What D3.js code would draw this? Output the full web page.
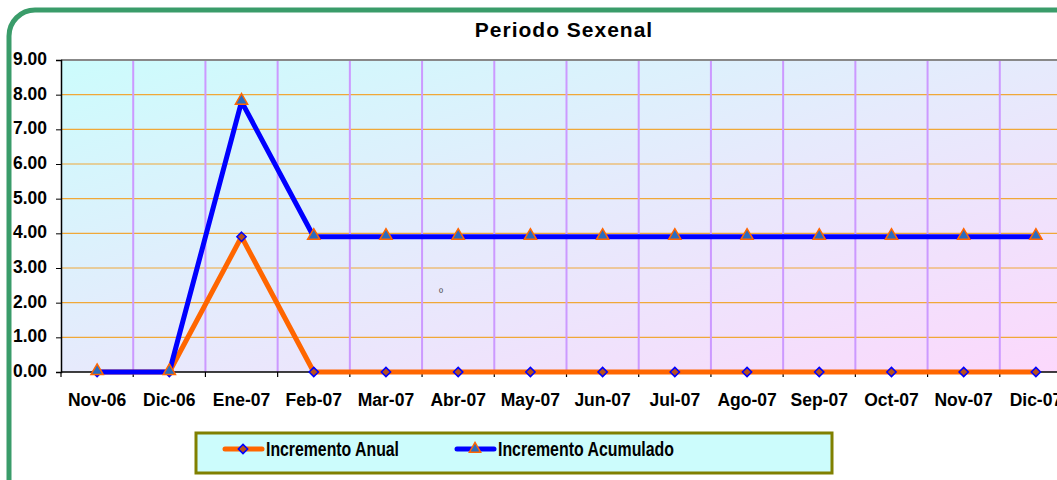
<!DOCTYPE html>
<html>
<head>
<meta charset="utf-8">
<script src="https://cdn.jsdelivr.net/npm/d3@7"></script>
<style>
  body { margin: 0; background: #fff; }
  svg { display: block; font-family: "Liberation Sans", Arial, sans-serif; }
</style>
</head>
<body>
<svg id="chart" width="1057" height="480"></svg>
<script>
const months = ['Nov-06', 'Dic-06', 'Ene-07', 'Feb-07', 'Mar-07', 'Abr-07', 'May-07', 'Jun-07', 'Jul-07', 'Ago-07', 'Sep-07', 'Oct-07', 'Nov-07', 'Dic-07']
const anual = [0, 0, 3.9, 0, 0, 0, 0, 0, 0, 0, 0, 0, 0, 0]
const acumulado = [0, 0, 7.8, 3.9, 3.9, 3.9, 3.9, 3.9, 3.9, 3.9, 3.9, 3.9, 3.9, 3.9]
const yTicks = [0, 1, 2, 3, 4, 5, 6, 7, 8, 9]

const svg = d3.select('#chart')
const pLeft = 61, pTop = 60, pBottom = 372, pRight = 1072

// outer frame
svg.append('rect').attr('x', 9).attr('y', 10).attr('width', 1080).attr('height', 500)
  .attr('rx', 26).attr('fill', '#fff').attr('stroke', '#3a9c6a').attr('stroke-width', 5)

const defs = svg.append('defs')
const grad = defs.append('linearGradient').attr('id', 'bg')
  .attr('x1', '0%').attr('y1', '0%').attr('x2', '100%').attr('y2', '100%')
grad.append('stop').attr('offset', '0%').attr('stop-color', '#ccfcfc')
grad.append('stop').attr('offset', '50%').attr('stop-color', '#e6eafc')
grad.append('stop').attr('offset', '100%').attr('stop-color', '#fcd8fc')

const x = d3.scaleBand().domain(months).range([pLeft, pRight])
const y = d3.scaleLinear().domain([0, 9]).range([pBottom, pTop])

svg.append('rect').attr('x', pLeft).attr('y', pTop)
  .attr('width', pRight - pLeft).attr('height', pBottom - pTop).attr('fill', 'url(#bg)')

// gridlines
svg.append('g').selectAll('line').data(yTicks.slice(1))
  .join('line')
  .attr('x1', pLeft).attr('x2', pRight)
  .attr('y1', d => y(d)).attr('y2', d => y(d))
  .attr('stroke', '#f0a838').attr('stroke-width', 1.2)
svg.append('g').selectAll('line').data(months.slice(1))
  .join('line')
  .attr('x1', d => x(d)).attr('x2', d => x(d))
  .attr('y1', pTop).attr('y2', pBottom)
  .attr('stroke', '#cc99ff').attr('stroke-width', 2)
svg.append('line').attr('x1', pLeft).attr('x2', pRight).attr('y1', pTop).attr('y2', pTop)
  .attr('stroke', '#888').attr('stroke-width', 2)

// axes
const yAxis = svg.append('g').attr('transform', `translate(${pLeft},0)`)
  .call(d3.axisLeft(y).tickValues(yTicks).tickFormat(d3.format('.2f')).tickSize(5).tickPadding(9))
yAxis.selectAll('text').attr('font-size', 17.5).attr('font-weight', 'bold').attr('fill', '#000').attr('dy', '0.25em')
yAxis.select('.domain').attr('stroke', '#000').attr('stroke-width', 1.5)

const xAxis = svg.append('g').attr('transform', `translate(0,${pBottom})`)
xAxis.append('line').attr('x1', pLeft).attr('x2', pRight).attr('stroke', '#000').attr('stroke-width', 1.5)
xAxis.selectAll('.tk').data(months.concat(['end']))
  .join('line').attr('class', 'tk')
  .attr('x1', (d, i) => pLeft + i * x.step()).attr('x2', (d, i) => pLeft + i * x.step())
  .attr('y1', 0).attr('y2', 5).attr('stroke', '#000').attr('stroke-width', 1.2)
xAxis.selectAll('text').data(months)
  .join('text')
  .attr('x', d => x(d) + x.bandwidth() / 2).attr('y', 34)
  .attr('text-anchor', 'middle').attr('font-size', 17.5).attr('font-weight', 'bold')
  .text(d => d)

// lines
const line = d3.line().x((d, i) => x(months[i]) + x.bandwidth() / 2).y(d => y(d))
svg.append('path').datum(anual).attr('d', line)
  .attr('fill', 'none').attr('stroke', '#ff6600').attr('stroke-width', 5).attr('stroke-linejoin', 'round')
svg.append('g').selectAll('path').data(anual)
  .join('path')
  .attr('transform', (d, i) => `translate(${x(months[i]) + x.bandwidth() / 2},${y(d)})`)
  .attr('d', d3.symbol(d3.symbolDiamond2, 55))
  .attr('fill', '#b8501c').attr('stroke', '#0000ff').attr('stroke-width', 1.5)

svg.append('path').datum(acumulado).attr('d', line)
  .attr('fill', 'none').attr('stroke', '#0000ff').attr('stroke-width', 5).attr('stroke-linejoin', 'round')
svg.append('g').selectAll('path').data(acumulado)
  .join('path')
  .attr('transform', (d, i) => `translate(${x(months[i]) + x.bandwidth() / 2},${y(d) - 1})`)
  .attr('d', d3.symbol(d3.symbolTriangle, 65))
  .attr('fill', '#2a6cc0').attr('stroke', '#ff6600').attr('stroke-width', 1.5)

// stray mark
svg.append('text').attr('x', 441).attr('y', 296).attr('font-size', 11).attr('fill', '#555').attr('text-anchor', 'middle').text('º')

// title
svg.append('text').attr('x', 564).attr('y', 37).attr('text-anchor', 'middle')
  .attr('font-size', 21).attr('font-weight', 'bold').attr('letter-spacing', 1).text('Periodo Sexenal')

// legend
const lg = svg.append('g')
lg.append('rect').attr('x', 196).attr('y', 433).attr('width', 636).attr('height', 40)
  .attr('fill', '#ccfcfc').attr('stroke', '#808000').attr('stroke-width', 3)
const items = [
  { name: 'Incremento Anual', color: '#ff6600', x0: 225, w: 133, sym: d3.symbolDiamond2, fill: '#b8501c', st: '#0000ff' },
  { name: 'Incremento Acumulado', color: '#0000ff', x0: 457, w: 176, sym: d3.symbolTriangle, fill: '#2a6cc0', st: '#ff6600' }
]
items.forEach(it => {
  lg.append('line').attr('x1', it.x0).attr('x2', it.x0 + 37).attr('y1', 449).attr('y2', 449)
    .attr('stroke', it.color).attr('stroke-width', 5).attr('stroke-linecap', 'round')
  lg.append('path').attr('transform', `translate(${it.x0 + 18},449)`)
    .attr('d', d3.symbol(it.sym, 55)).attr('fill', it.fill).attr('stroke', it.st).attr('stroke-width', 1.5)
  lg.append('text').attr('x', it.x0 + 41).attr('y', 456)
    .attr('font-family', '"Liberation Sans Narrow", "Liberation Sans", sans-serif')
    .attr('font-size', 20).attr('font-weight', 'bold')
    .attr('textLength', it.w).attr('lengthAdjust', 'spacingAndGlyphs').text(it.name)
})
</script>
</body>
</html>
